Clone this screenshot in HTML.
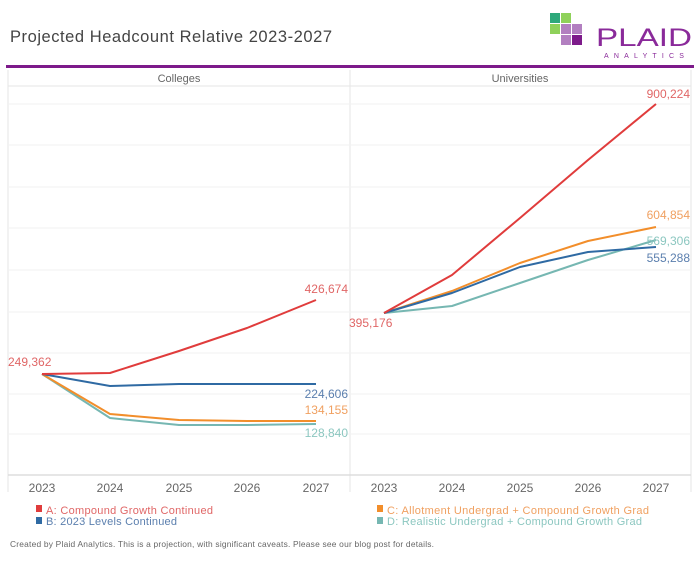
<!DOCTYPE html>
<html><head><meta charset="utf-8"><style>
body{margin:0;background:#fff;font-family:"Liberation Sans",sans-serif;}
svg text{font-family:"Liberation Sans",sans-serif;}
</style></head><body>
<svg width="700" height="560" viewBox="0 0 700 560" xmlns="http://www.w3.org/2000/svg">
<rect width="700" height="560" fill="#fff"/>
<text x="10" y="42" font-size="16.5" fill="#444" textLength="322">Projected Headcount Relative 2023-2027</text>
<!-- logo -->
<rect x="550" y="13" width="10" height="10" fill="#2ea87a"/>
<rect x="561" y="13" width="10" height="10" fill="#8fd15a"/>
<rect x="550" y="24" width="10" height="10" fill="#8fd15a"/>
<rect x="561" y="24" width="10" height="10" fill="#b27fc0"/>
<rect x="561" y="35" width="10" height="10" fill="#b27fc0"/>
<rect x="572" y="24" width="10" height="10" fill="#b27fc0"/>
<rect x="572" y="35" width="10" height="10" fill="#7d1a8a"/>
<text x="596" y="46" font-size="25" fill="#8a2a9a" textLength="96" lengthAdjust="spacingAndGlyphs" style="font-weight:300">PLAID</text>
<text x="604" y="58" font-size="7" fill="#8a2a9a" letter-spacing="5.2">ANALYTICS</text>
<rect x="6" y="65" width="688" height="3" fill="#7d1a8a"/>
<!-- panels -->
<g stroke="#e6e6e6" stroke-width="1" fill="none">
<line x1="8" y1="70" x2="8" y2="492"/>
<line x1="350" y1="70" x2="350" y2="492"/>
<line x1="691" y1="70" x2="691" y2="492"/>
<line x1="8" y1="86" x2="691" y2="86"/>
<line x1="8" y1="475" x2="691" y2="475" stroke="#ddd" stroke-width="1.5"/>
</g>
<g stroke="#f2f2f2" stroke-width="1">
<line x1="8" y1="104" x2="691" y2="104"/><line x1="8" y1="145" x2="691" y2="145"/>
<line x1="8" y1="187" x2="691" y2="187"/><line x1="8" y1="228" x2="691" y2="228"/>
<line x1="8" y1="270" x2="691" y2="270"/><line x1="8" y1="312" x2="691" y2="312"/>
<line x1="8" y1="353" x2="691" y2="353"/><line x1="8" y1="394" x2="691" y2="394"/>
<line x1="8" y1="434" x2="691" y2="434"/>
</g>
<text x="179" y="82" font-size="11" fill="#666" text-anchor="middle">Colleges</text>
<text x="520" y="82" font-size="11" fill="#666" text-anchor="middle">Universities</text>
<g font-size="12" fill="#666" text-anchor="middle">
<text x="42" y="492">2023</text><text x="110" y="492">2024</text><text x="179" y="492">2025</text><text x="247" y="492">2026</text><text x="316" y="492">2027</text>
<text x="384" y="492">2023</text><text x="452" y="492">2024</text><text x="520" y="492">2025</text><text x="588" y="492">2026</text><text x="656" y="492">2027</text>
</g>
<g fill="none" stroke-width="2" stroke-linejoin="round">
<polyline stroke="#76b7b2" points="42,374 110,418 179,425 247,425 316,424"/>
<polyline stroke="#f28e2b" points="42,374 110,414 179,420 247,421 316,421"/>
<polyline stroke="#2f6aa3" points="42,374 110,386 179,384 247,384 316,384"/>
<polyline stroke="#e03c3c" points="42,374 110,373 179,351 247,328 316,300"/>
<polyline stroke="#76b7b2" points="384,313 452,306 520,283 588,260 656,240"/>
<polyline stroke="#f28e2b" points="384,313 452,291 520,263 588,241 656,227"/>
<polyline stroke="#2f6aa3" points="384,313 452,293 520,267 588,252 656,247"/>
<polyline stroke="#e03c3c" points="384,313 452,275 520,218 588,160 656,104"/>
</g>
<g font-size="12">
<text x="8" y="366" fill="#e06666">249,362</text>
<text x="348" y="293" fill="#e06666" text-anchor="end">426,674</text>
<text x="348" y="398" fill="#5b7fae" text-anchor="end">224,606</text>
<text x="348" y="414" fill="#f0a060" text-anchor="end">134,155</text>
<text x="348" y="437" fill="#8cc7c0" text-anchor="end">128,840</text>
<text x="349" y="327" fill="#e06666">395,176</text>
<text x="690" y="98" fill="#e06666" text-anchor="end">900,224</text>
<text x="690" y="219" fill="#f0a060" text-anchor="end">604,854</text>
<text x="690" y="245" fill="#8cc7c0" text-anchor="end">569,306</text>
<text x="690" y="262" fill="#5b7fae" text-anchor="end">555,288</text>
</g>
<g font-size="11">
<rect x="36" y="505" width="6" height="7" fill="#e03c3c"/><text x="46" y="514" fill="#e06666" textLength="167">A: Compound Growth Continued</text>
<rect x="36" y="517" width="6" height="7" fill="#2f6aa3"/><text x="46" y="525" fill="#5b7fae" textLength="131">B: 2023 Levels Continued</text>
<rect x="377" y="505" width="6" height="7" fill="#f28e2b"/><text x="387" y="514" fill="#f0a060" textLength="262">C: Allotment Undergrad + Compound Growth Grad</text>
<rect x="377" y="517" width="6" height="7" fill="#76b7b2"/><text x="387" y="525" fill="#8cc7c0" textLength="255">D: Realistic Undergrad + Compound Growth Grad</text>
</g>
<text x="10" y="547" font-size="8.4" fill="#666" textLength="424">Created by Plaid Analytics. This is a projection, with significant caveats. Please see our blog post for details.</text>
</svg>
</body></html>
